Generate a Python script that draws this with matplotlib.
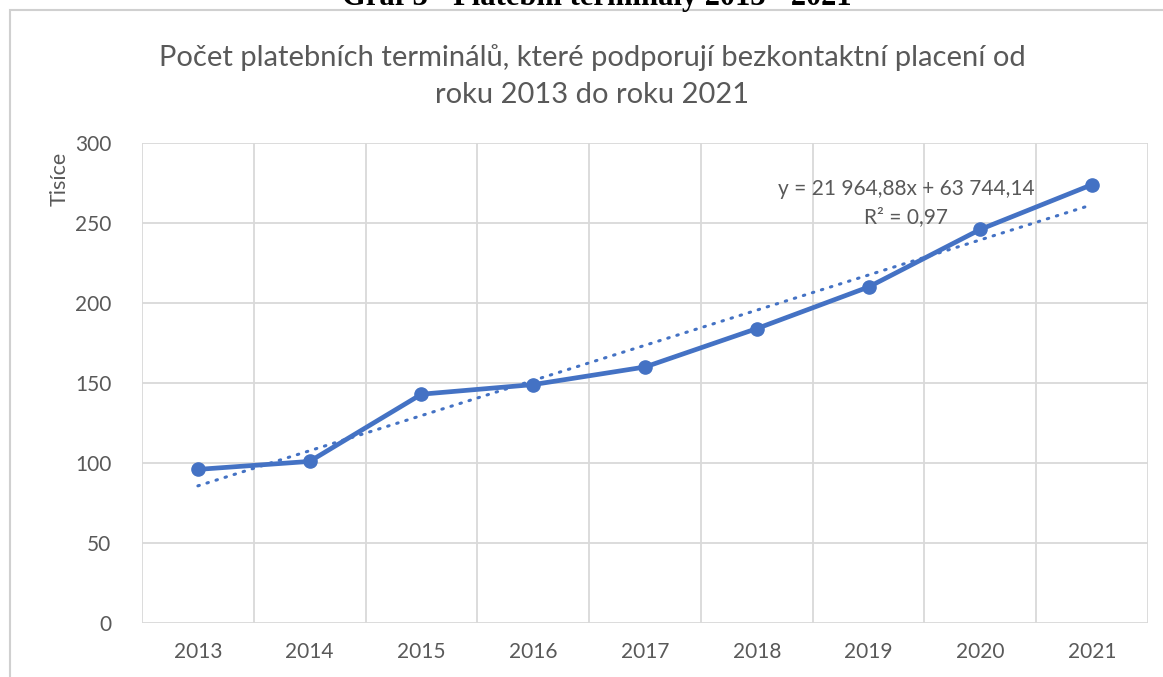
import numpy as np
import matplotlib
matplotlib.use("Agg")
import matplotlib.pyplot as plt
from matplotlib.patches import Rectangle

# data (thousands of terminals)
years = ["2013", "2014", "2015", "2016", "2017", "2018", "2019", "2020", "2021"]
terminals = [96, 101, 143, 149, 160, 184, 210, 246, 274]

# linear trend shown in the chart (y in units, x = 1..9)
trend_slope = 21964.88
trend_icept = 63744.14
trend_label = "y = 21 964,88x + 63 744,14\nR² = 0,97"

plt.rcParams["font.family"] = ["Lato", "DejaVu Sans"]

BLUE = "#4472C4"
GRID = "#D9D9D9"
TXT = "#595959"

fig = plt.figure(figsize=(11.63, 6.77), dpi=100)
W, H = 1163, 677

# outer chart frame
fig.patches.append(Rectangle((10 / W, -0.1), 1.2, 1.1 - 10 / H, transform=fig.transFigure,
                             fill=False, edgecolor="#D0D0D0", linewidth=1.5))

# document caption above the chart (cut off at the top, as in the source)
fig.text(597 / W, 1 - 5 / H, "Graf 3 - Platební terminály 2013 - 2021", ha="center", va="baseline",
         family="Liberation Serif", fontweight="bold", fontsize=22, color="black")

ax = fig.add_axes([142 / W, 1 - 623 / H, (1148 - 142) / W, (623 - 143) / H])

x = np.arange(len(years))
ax.plot(x, terminals, color=BLUE, linewidth=3.4, marker="o", markersize=9.5, zorder=3,
        solid_capstyle="round")

xt = np.arange(1, len(years) + 1)
trend = (trend_slope * xt + trend_icept) / 1000
ax.plot(x, trend, color=BLUE, linewidth=2.2, linestyle=(0, (0.5, 2.6)), dash_capstyle="round", zorder=2)

ax.set_xlim(-0.5, len(years) - 0.5)
ax.set_ylim(0, 300)
ax.set_yticks(range(0, 301, 50))
ax.set_xticks(x)
ax.set_xticklabels(years)
ax.set_xticks(np.arange(-0.5, len(years), 1), minor=True)
ax.grid(True, which="minor", axis="x", color=GRID, linewidth=1.3)
ax.grid(True, which="major", axis="y", color=GRID, linewidth=1.3)
ax.set_axisbelow(True)
for s in ax.spines.values():
    s.set_visible(False)
ax.tick_params(axis="both", which="both", length=0, labelsize=15, labelcolor=TXT)
ax.tick_params(axis="y", pad=22)
ax.tick_params(axis="x", pad=14)

ax.set_ylabel("Tisíce", fontsize=15.5, color=TXT)
ax.yaxis.set_label_coords(-0.072, 0.925)

ax.text(906 / W, 1 - 203 / H, trend_label, transform=fig.transFigure, ha="center", va="center",
        fontsize=15, color=TXT, linespacing=1.45)

fig.text(592 / W, 1 - 76 / H,
         "Počet platebních terminálů, které podporují bezkontaktní placení od\nroku 2013 do roku 2021",
         ha="center", va="center", fontsize=21, color=TXT, linespacing=1.5)

fig.savefig("out.png", dpi=100)
